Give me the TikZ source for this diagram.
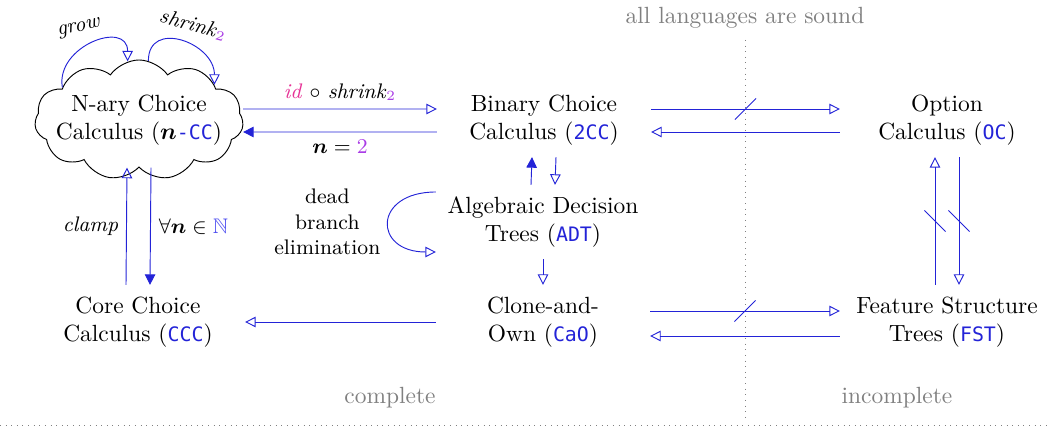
\documentclass[tikz,border=0pt]{standalone}
\usepackage{amsfonts,amssymb,amsmath}
\usepackage{xcolor}
\usepackage{fontspec}
\newfontfamily\langfont{DejaVu Sans Mono}[Scale=0.85]
\usepackage{tikz}
\usetikzlibrary{arrows.meta,shapes}

\definecolor{lnblue}{RGB}{35,35,215}
\definecolor{nblue}{RGB}{80,80,240}
\definecolor{idpink}{RGB}{230,50,150}
\definecolor{subpurple}{RGB}{170,60,230}
\definecolor{notegray}{RGB}{128,128,128}
\newcommand{\lang}[1]{\textcolor{lnblue}{{\langfont #1}}}

\begin{document}
\begin{tikzpicture}[x=0.015cm,y=0.015cm,
  lng/.style={align=center,minimum width=3.2cm,minimum height=1.1cm,inner sep=0pt},
  opn/.style={lnblue,-{Triangle[open,length=4.5pt,width=4.5pt]}},
  fil/.style={lnblue,-{Triangle[length=4.5pt,width=4.5pt]}},
  hslash/.style={draw=lnblue,minimum width=0pt,minimum height=0.45cm,inner sep=0pt,rotate=-45},
  vslash/.style={draw=lnblue,minimum width=0pt,minimum height=0.45cm,inner sep=0pt,rotate=45},
  note/.style={text=notegray},
  lbl/.style={font=\small,text=black}]
\useasboundingbox (0,0) rectangle (1050,429);
% regions
\draw[notegray,dotted](745,389)--(745,9);
\draw[notegray,dotted](0,4)--(1050,4);
\node[note] (sound) at (745,411) {all languages are sound};
\node[note] (cmp) at (390,31) {complete};
\node[note] (incmp) at (897,31) {incomplete};
% languages
\node[cloud,draw,cloud puffs=11,cloud puff arc=110,cloud ignores aspect,
  minimum height=1.8cm,align=center,inner xsep=-0.15cm,inner ysep=0pt]
  (ncc) at (139,309) {N-ary Choice\\Calculus ($\boldsymbol{n}$\lang{-CC})};
\node[lng] (bcc) at (544,309) {Binary Choice\\Calculus (\lang{2CC})};
\node[lng] (oc) at (947,309) {Option\\Calculus (\lang{OC})};
\node[lng] (adt) at (543,207) {Algebraic Decision\\Trees (\lang{ADT})};
\node[lng] (cao) at (543,107) {Clone-and-\\Own (\lang{CaO})};
\node[lng] (ccc) at (138,107) {Core Choice\\Calculus (\lang{CCC})};
\node[lng] (fst) at (947,107) {Feature Structure\\Trees (\lang{FST})};
% loops on the cloud
\draw[opn](ncc.157) .. controls +(100:42) and +(90:42) .. (ncc.101)
  node[pos=0.4,above=2pt,rotate=12,lbl]{\textit{grow}};
\draw[opn](ncc.81) .. controls +(90:42) and +(90:42) .. (ncc.25)
  node[pos=0.5,xshift=5pt,yshift=7pt,rotate=-15,lbl]{\textit{shrink}$_{\textcolor{subpurple}{2}}$};
% top row
\draw[opn]([yshift=0.165cm]ncc.east)--node[above,lbl]{\textcolor{idpink}{\textit{id}} $\circ$ \textit{shrink}$_{\textcolor{subpurple}{2}}$}([yshift=0.165cm]bcc.west);
\draw[fil]([yshift=-0.18cm]bcc.west)--node[below,lbl]{$\boldsymbol{n}=\textcolor{subpurple}{2}$}([yshift=-0.18cm]ncc.east);
\draw[opn]([yshift=0.165cm]bcc.east)--node[hslash]{}([yshift=0.165cm]oc.west);
\draw[opn]([yshift=-0.18cm]oc.west)--([yshift=-0.18cm]bcc.east);
% middle
\draw[fil]([xshift=-0.18cm]adt.north)--([xshift=-0.18cm]bcc.south);
\draw[opn]([xshift=0.18cm]bcc.south)--([xshift=0.18cm]adt.north);
\draw[opn](adt)--(cao);
\draw[opn]([yshift=0.45cm]adt.west) .. controls +(180:63) and +(180:63) .. ([yshift=-0.45cm]adt.west)
  node[midway,left,lbl,align=center]{dead\\branch\\elimination};
\draw[opn]([xshift=-0.18cm]ccc.north)--node[left,lbl]{\textit{clamp}}([xshift=-0.18cm]ncc.south);
\draw[fil]([xshift=0.18cm]ncc.south)--node[right,lbl]{$\forall\boldsymbol{n}\in\textcolor{nblue}{\mathbb{N}}$}([xshift=0.18cm]ccc.north);
\draw[opn]([xshift=-0.18cm]fst.north)--node[vslash]{}([xshift=-0.18cm]oc.south);
\draw[opn]([xshift=0.18cm]oc.south)--node[vslash]{}([xshift=0.18cm]fst.north);
% bottom row
\draw[opn](cao)--(ccc);
\draw[opn]([yshift=0.165cm]cao.east)--node[hslash]{}([yshift=0.165cm]fst.west);
\draw[opn]([yshift=-0.21cm]fst.west)--([yshift=-0.21cm]cao.east);
\end{tikzpicture}
\end{document}
